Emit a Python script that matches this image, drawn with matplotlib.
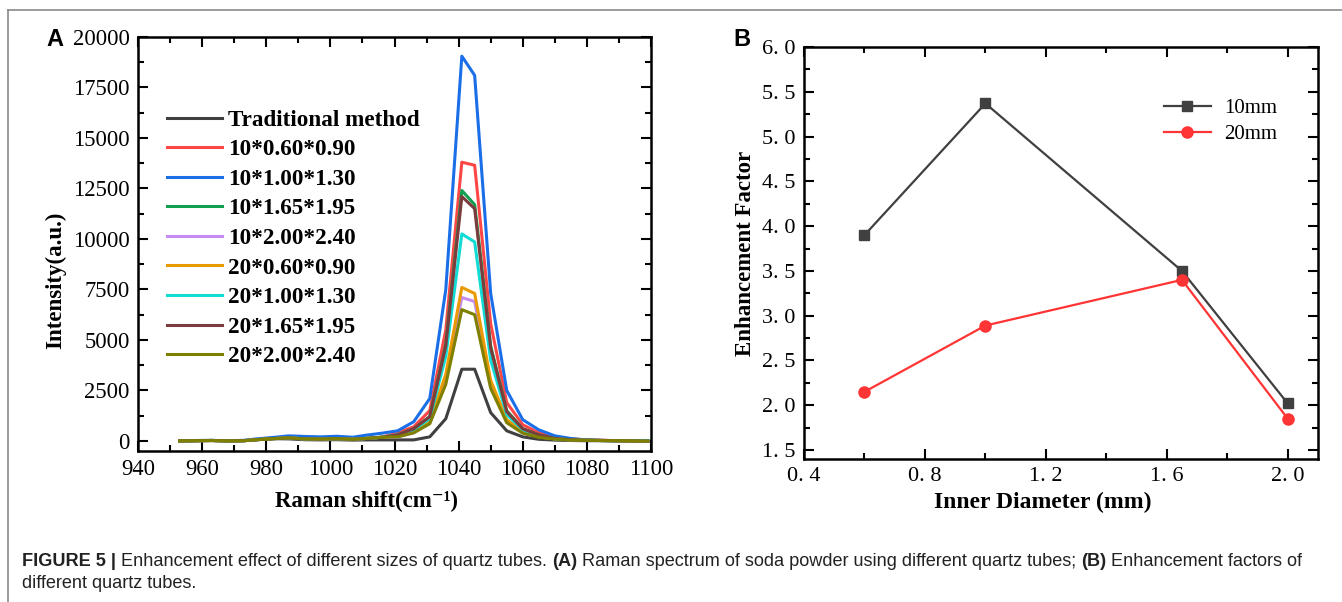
import numpy as np
import matplotlib
matplotlib.use("Agg")
import matplotlib.pyplot as plt
from matplotlib.ticker import MultipleLocator, FixedLocator
from matplotlib.lines import Line2D

# ---- panel A: Raman spectra ----
shift = [953, 958, 963, 968, 973, 977, 982, 987, 992, 997, 1002, 1007, 1011, 1016,
         1021, 1026, 1031, 1036, 1041, 1045, 1050, 1055, 1060, 1065, 1070, 1075,
         1079, 1084, 1089, 1094, 1099]

base = [0, 10, 20, 0, 10, 60, 110, 150, 100, 90, 110, 80, 120, 180]
base_blue = [0, 20, 30, 0, 30, 100, 170, 250, 220, 200, 230, 180, 280, 380]

traditional = base[:7] + [100, 60, 50, 60, 40, 50, 50] + \
    [50, 50, 200, 1100, 3550, 3550, 1400, 500, 200, 80, 40, 20, 10, 10, 0, 0, -10]
s10_060 = base + [400, 700, 1500, 5500, 13800, 13650, 5800, 1900, 800, 400, 180, 100, 60, 40, 10, 0, -20]
s10_100 = base_blue + [500, 950, 2100, 7500, 19050, 18100, 7300, 2500, 1050, 550, 250, 120, 60, 30, 10, 0, -20]
s10_165 = base + [300, 600, 1200, 4800, 12400, 11700, 4700, 1500, 600, 300, 120, 60, 40, 20, 10, 20, 20]
s10_200 = base + [200, 400, 900, 3000, 7100, 6900, 2800, 1000, 400, 200, 100, 50, 30, 20, 10, 0, -10]
s20_060 = base + [250, 450, 950, 3300, 7600, 7300, 3000, 1050, 450, 200, 100, 50, 30, 20, 10, 0, -10]
s20_100 = base + [300, 550, 1100, 4200, 10250, 9850, 4000, 1300, 550, 250, 100, 60, 40, 20, 10, 10, 10]
s20_165 = base + [300, 600, 1200, 4700, 12100, 11500, 4600, 1450, 600, 300, 120, 60, 40, 20, 10, 0, -10]
s20_200 = base + [200, 400, 850, 2800, 6500, 6250, 2600, 900, 380, 180, 90, 40, 30, 20, 10, 0, -10]

spec_labels = ["Traditional method", "10*0.60*0.90", "10*1.00*1.30", "10*1.65*1.95",
               "10*2.00*2.40", "20*0.60*0.90", "20*1.00*1.30", "20*1.65*1.95", "20*2.00*2.40"]
spec_data = [traditional, s10_060, s10_100, s10_165, s10_200, s20_060, s20_100, s20_165, s20_200]
spec_colors = ["#404040", "#ff4646", "#1a6fe8", "#10a050", "#c78cf0",
               "#e89a00", "#10dcd4", "#7a3c3c", "#7f7f00"]

# ---- panel B: enhancement factors ----
diameter = [0.6, 1.0, 1.65, 2.0]
ef_10mm = [3.9, 5.37, 3.5, 2.02]
ef_20mm = [2.15, 2.89, 3.40, 1.85]
b_yticks = [1.5, 2.0, 2.5, 3.0, 3.5, 4.0, 4.5, 5.0, 5.5, 6.0]
b_yticklabels = ["1. 5", "2. 0", "2. 5", "3. 0", "3. 5", "4. 0", "4. 5", "5. 0", "5. 5", "6. 0"]
b_xticks = [0.4, 0.8, 1.2, 1.6, 2.0]
b_xticklabels = ["0. 4", "0. 8", "1. 2", "1. 6", "2. 0"]

W, H = 1342, 602
fig = plt.figure(figsize=(W / 100, H / 100), dpi=100)
serif = ["Liberation Serif", "DejaVu Serif"]


def style_ticks(ax, size):
    ax.tick_params(which="both", direction="in", top=True, right=True, width=1.5,
                   labelsize=size, pad=6)
    ax.tick_params(which="major", length=7)
    ax.tick_params(which="minor", length=4)
    for sp in ax.spines.values():
        sp.set_linewidth(1.8)
    for lab in ax.get_xticklabels() + ax.get_yticklabels():
        lab.set_family(serif)


# panel A
axA = fig.add_axes([138 / W, 1 - 451 / H, 513 / W, 414 / H])
for lab, ys, c in zip(spec_labels, spec_data, spec_colors):
    axA.plot(shift, ys, color=c, lw=2.2, label=lab)
axA.set_xlim(940, 1100)
axA.set_ylim(-500, 20000)
axA.xaxis.set_major_locator(MultipleLocator(20))
axA.xaxis.set_minor_locator(MultipleLocator(10))
axA.yaxis.set_major_locator(MultipleLocator(2500))
axA.yaxis.set_minor_locator(MultipleLocator(1250))
style_ticks(axA, 16.3)
axA.set_xlabel("Raman shift(cm\u207b\u00b9)", fontsize=16.5, fontweight="bold", family=serif)
axA.xaxis.set_label_coords((367 - 138) / 513, -(491 - 451) / 414)
axA.set_ylabel("Intensity(a.u.)", fontsize=16.5, fontweight="bold", family=serif)
axA.yaxis.set_label_coords(-(138 - 66) / 513, (451 - 280) / 414)
axA.legend(loc="upper left", bbox_to_anchor=(0.0565, 0.825), frameon=False,
           prop={"family": serif, "weight": "bold", "size": 16.7},
           handlelength=2.37, handletextpad=0.25, labelspacing=0.36,
           borderaxespad=0, borderpad=0)

# panel B
axB = fig.add_axes([804 / W, 1 - 459 / H, 514 / W, 412 / H])
axB.plot(diameter, ef_10mm, color="#404040", lw=1.6, marker="s", ms=7, label="10mm")
axB.plot(diameter, ef_20mm, color="#ff3434", lw=1.6, marker="o", ms=8, label="20mm")
axB.set_xlim(0.4, 2.1)
axB.set_ylim(1.4, 6.0)
axB.xaxis.set_major_locator(FixedLocator(b_xticks))
axB.set_xticklabels(b_xticklabels)
axB.xaxis.set_minor_locator(MultipleLocator(0.2))
axB.yaxis.set_major_locator(FixedLocator(b_yticks))
axB.set_yticklabels(b_yticklabels)
axB.yaxis.set_minor_locator(MultipleLocator(0.25))
style_ticks(axB, 16)
axB.set_xlabel("Inner Diameter (mm)", fontsize=17, fontweight="bold", family=serif)
axB.xaxis.set_label_coords((1043 - 804) / 514, -(492 - 459) / 412)
axB.set_ylabel("Enhancement Factor", fontsize=16.5, fontweight="bold", family=serif)
axB.yaxis.set_label_coords(-(804 - 756) / 514, 0.5)
axB.legend(loc="upper left", bbox_to_anchor=(0.700, 0.875), frameon=False,
           prop={"family": serif, "size": 15}, handlelength=2.26,
           handletextpad=0.62, labelspacing=0.3, borderaxespad=0, borderpad=0)

# panel letters
fig.text(46 / W, 1 - 40 / H, "A", fontsize=17, fontweight="bold", family="Liberation Sans",
         va="center", ha="left")
fig.text(733 / W, 1 - 39 / H, "B", fontsize=17, fontweight="bold", family="Liberation Sans",
         va="center", ha="left")

# frame lines
fig.add_artist(Line2D([8 / W, 1], [1 - 10 / H, 1 - 10 / H], color="#8a8a8a", lw=1.2))
fig.add_artist(Line2D([8 / W, 8 / W], [0, 1 - 10 / H], color="#8a8a8a", lw=1.2))

# caption with mixed weights
fig.canvas.draw()
renderer = fig.canvas.get_renderer()
caption_lines = [
    [("FIGURE 5 |", "bold"), (" Enhancement effect of different sizes of quartz tubes. ", "normal"),
     ("(A)", "bold"), (" Raman spectrum of soda powder using different quartz tubes; ", "normal"),
     ("(B)", "bold"), (" Enhancement factors of", "normal")],
    [("different quartz tubes.", "normal")],
]
cap_y = [561, 584]
for pieces, yy in zip(caption_lines, cap_y):
    x = 22 / W
    for txt, wt in pieces:
        t = fig.text(x, 1 - yy / H, txt, fontsize=13.1, fontweight=wt, family="Liberation Sans",
                     color="#222222", va="center", ha="left")
        bb = t.get_window_extent(renderer)
        x = bb.x1 / W

fig.savefig("out.png", dpi=100)
